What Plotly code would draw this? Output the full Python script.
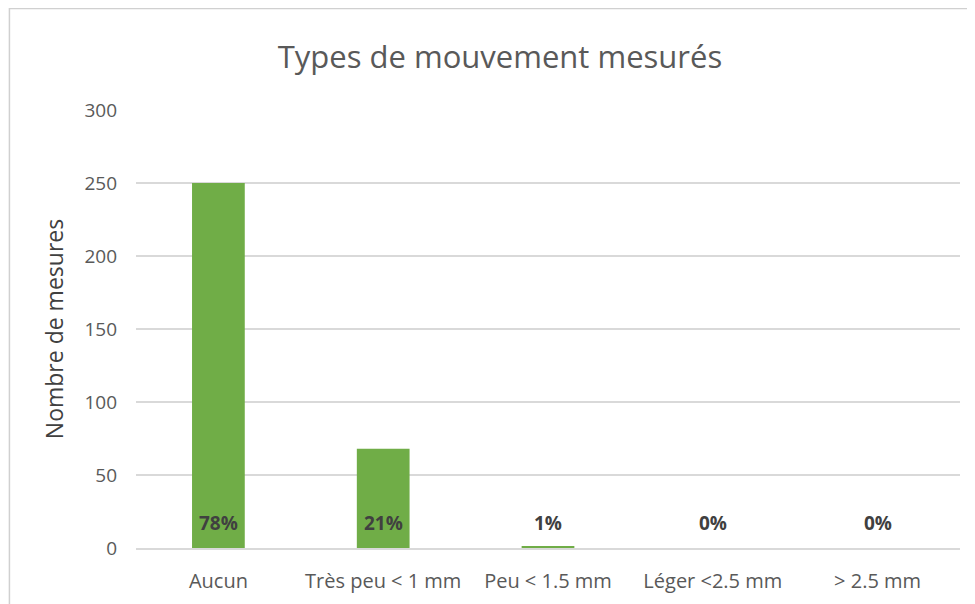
import plotly.graph_objects as go

categories = ["Aucun", "Très peu < 1 mm", "Peu < 1.5 mm", "Léger <2.5 mm", "> 2.5 mm"]
counts = [250, 68, 1, 0, 0]
percent_labels = ["78%", "21%", "1%", "0%", "0%"]
y_ticks = [0, 50, 100, 150, 200, 250, 300]

FONT = "'Open Sans', sans-serif"
GRAY = "#595959"

# page has an 8px body margin; margins compensate so the plot lands where the reference is
fig = go.Figure()
fig.add_trace(go.Bar(
    x=categories, y=counts,
    marker=dict(color="#70AD47", line=dict(width=0)),
    width=0.32,
    hoverinfo="x+y",
))

for c, lab in zip(categories, percent_labels):
    fig.add_annotation(
        x=c, y=0, xref="x", yref="y", text=f"<b>{lab}</b>",
        showarrow=False, yanchor="middle", yshift=25,
        font=dict(family=FONT, size=19, color="#404040"),
    )

fig.update_layout(
    width=975, height=604,
    margin=dict(l=127.5, r=22.5, t=102, b=64),
    paper_bgcolor="white", plot_bgcolor="white",
    showlegend=False,
    title=dict(
        text="Types de mouvement mesurés",
        x=(500 - 8) / 975, xref="container", xanchor="center",
        y=1 - 49 / 604, yref="container", yanchor="middle",
        font=dict(family=FONT, size=31, color=GRAY),
    ),
    font=dict(family=FONT, color=GRAY),
    xaxis=dict(
        showgrid=False, showline=True, linecolor="#D9D9D9", linewidth=1.5,
        ticks="", tickfont=dict(size=20, color=GRAY), fixedrange=True,
        ticklabelstandoff=14,
    ),
    yaxis=dict(
        range=[0, 300], tickvals=y_ticks, showgrid=True, gridcolor="#D9D9D9",
        gridwidth=1.5, zeroline=False, showline=False, ticks="",
        tickfont=dict(size=19, color=GRAY), ticklabelstandoff=18,
        title=dict(text="Nombre de mesures", font=dict(size=23, color="#404040"), standoff=14),
    ),
    shapes=[dict(
        type="rect", xref="paper", yref="paper",
        x0=-0.1536, x1=1.2, y0=-0.3, y1=1.232,
        line=dict(color="#D0D0D0", width=1.5), fillcolor="rgba(0,0,0,0)", layer="below",
    )],
)

fig.write_html("out.html")
